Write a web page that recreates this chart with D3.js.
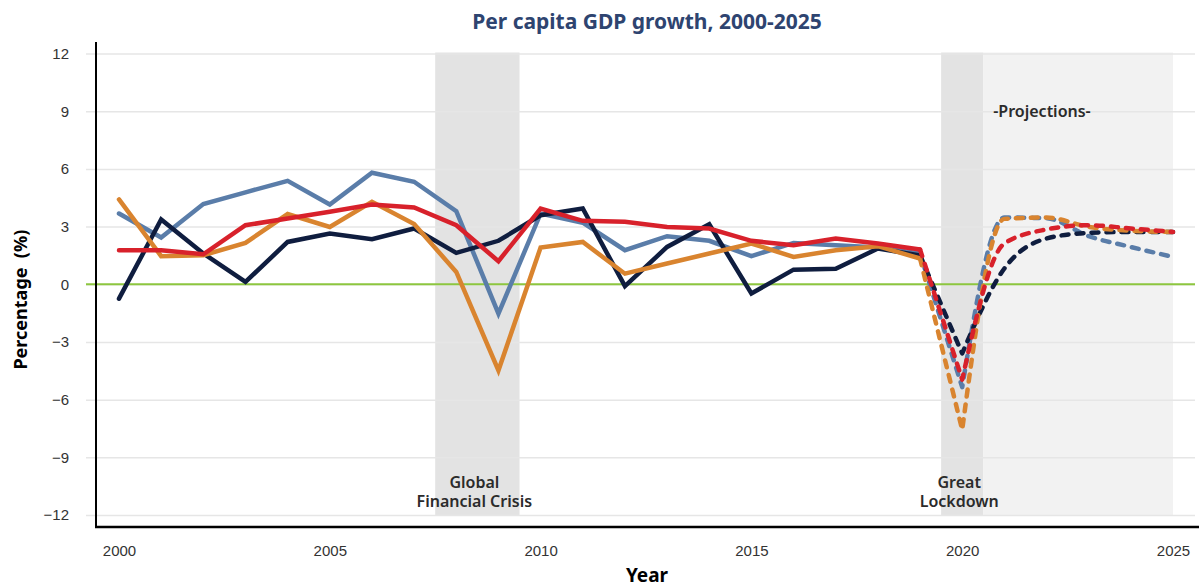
<!DOCTYPE html>
<html>
<head>
<meta charset="utf-8">
<script src="https://cdn.jsdelivr.net/npm/d3@7"></script>
<style>
  body { margin: 0; background: #fff; }
  svg { font-family: "Noto Sans", sans-serif; }
</style>
</head>
<body>
<div id="chart"></div>
<script>
// data, one value per year 2000-2025
var years = d3.range(2000, 2026);
var lastActual = 2019;
var troughYear = 2020;

var navyVals   = [-0.75, 3.37, 1.6, 0.12, 2.2, 2.64, 2.34, 2.9, 1.63, 2.26, 3.59, 3.94, -0.1, 1.94, 3.12, -0.48, 0.76, 0.8, 1.86, 1.5, -3.6, 0.82, 2.38, 2.67, 2.72, 2.72];
var blueVals   = [3.68, 2.43, 4.17, 4.78, 5.38, 4.15, 5.8, 5.33, 3.8, -1.53, 3.68, 3.2, 1.77, 2.5, 2.26, 1.46, 2.15, 2.03, 1.91, 1.6, -5.35, 3.47, 3.43, 2.5, 1.94, 1.42];
var orangeVals = [4.41, 1.46, 1.51, 2.15, 3.65, 2.98, 4.29, 3.13, 0.64, -4.48, 1.91, 2.2, 0.55, 1.08, 1.6, 2.12, 1.42, 1.77, 1.98, 1.34, -7.57, 3.4, 3.47, 2.98, 2.78, 2.72];
var redVals    = [1.77, 1.77, 1.56, 3.07, 3.42, 3.77, 4.15, 3.99, 3.07, 1.2, 3.94, 3.3, 3.25, 2.98, 2.9, 2.26, 2.03, 2.38, 2.12, 1.81, -4.96, 2.12, 2.85, 3.07, 2.9, 2.72];

var yTicks = [-12, -9, -6, -3, 0, 3, 6, 9, 12];
var xTicks = [2000, 2005, 2010, 2015, 2020, 2025];

var seriesList = [
  {name: "blue",   values: blueVals,   color: "#5a7da9"},
  {name: "navy",   values: navyVals,   color: "#0f1d3f"},
  {name: "orange", values: orangeVals, color: "#d9842f"},
  {name: "red",    values: redVals,    color: "#d8212b"}
];

var shades = [
  {from: 2007.5, to: 2009.5, fill: "#e3e3e3", label: ["Global", "Financial Crisis"]},
  {from: 2019.5, to: 2020.5, fill: "#e3e3e3", label: ["Great", "Lockdown"]},
  {from: 2020.5, to: 2025,   fill: "#f2f2f2", label: null}
];

var W = 1199, H = 585;

var svg = d3.select("#chart").append("svg")
  .attr("width", W)
  .attr("height", H);

var x = d3.scaleLinear().domain([2000, 2025]).range([119, 1173]);
var y = d3.scaleLinear().domain([-12, 12]).range([515, 53.5]);

// shaded periods
svg.selectAll("rect.shade")
  .data(shades)
  .enter().append("rect")
  .attr("class", "shade")
  .attr("x", function(d) { return x(d.from); })
  .attr("width", function(d) { return x(d.to) - x(d.from); })
  .attr("y", y(12) - 1)
  .attr("height", y(-12) - y(12) + 1)
  .attr("fill", function(d) { return d.fill; });

// gridlines + y tick labels
var yAxis = d3.axisLeft(y)
  .tickValues(yTicks)
  .tickSize(-(1195 - 86))
  .tickPadding(16)
  .tickFormat(d3.format("d"));

svg.append("g")
  .attr("transform", "translate(86,0)")
  .call(yAxis)
  .call(function(g) {
    g.select(".domain").remove();
    g.selectAll(".tick line").attr("stroke", "#e6e6e6").attr("stroke-width", 1.5);
    g.selectAll(".tick text").attr("fill", "#333").style("font-size", "15px")
      .style("font-weight", 300).attr("x", -17);
  });

// shade labels on top of grid
shades.forEach(function(s) {
  if (!s.label) return;
  var cx = (x(s.from) + x(s.to)) / 2 - 3;
  var t = svg.append("text")
    .attr("x", cx)
    .attr("y", 488)
    .attr("text-anchor", "middle")
    .attr("fill", "#2b2b2b")
    .style("font-size", "16px")
    .style("font-weight", 600);
  s.label.forEach(function(line, i) {
    t.append("tspan").attr("x", cx).attr("dy", i == 0 ? 0 : 19).text(line);
  });
});

svg.append("text")
  .attr("x", 1042)
  .attr("y", 117)
  .attr("text-anchor", "middle")
  .attr("fill", "#2b2b2b")
  .style("font-size", "16px")
  .style("font-weight", 600)
  .text("-Projections-");

// zero line
svg.append("line")
  .attr("x1", 86).attr("x2", 1195)
  .attr("y1", y(0)).attr("y2", y(0))
  .attr("stroke", "#8dc63f")
  .attr("stroke-width", 2);

// lines
var solidLine = d3.line()
  .x(function(d) { return x(d.year); })
  .y(function(d) { return y(d.value); });

var smoothLine = d3.line()
  .curve(d3.curveMonotoneX)
  .x(function(d) { return x(d.year); })
  .y(function(d) { return y(d.value); });

seriesList.forEach(function(s) {
  var pts = years.map(function(yr, i) { return {year: yr, value: s.values[i]}; });
  var actual = pts.filter(function(d) { return d.year <= lastActual; });
  var drop = pts.filter(function(d) { return d.year >= lastActual && d.year <= troughYear; });
  var recovery = pts.filter(function(d) { return d.year >= troughYear; });

  svg.append("path")
    .datum(actual)
    .attr("d", solidLine)
    .attr("fill", "none")
    .attr("stroke", s.color)
    .attr("stroke-width", 4.5)
    .attr("stroke-linejoin", "miter")
    .attr("stroke-linecap", "round");

  // sharp drop into 2020, smooth recovery after; one path so dashes run on
  var d = solidLine(drop) + smoothLine(recovery).replace(/^M/, "L");
  svg.append("path")
    .attr("d", d)
    .attr("fill", "none")
    .attr("stroke", s.color)
    .attr("stroke-width", 4.5)
    .attr("stroke-dasharray", "7,8")
    .attr("stroke-linejoin", "round")
    .attr("stroke-linecap", "round");
});

// axis lines
svg.append("line")
  .attr("x1", 96).attr("x2", 96)
  .attr("y1", 42).attr("y2", 527)
  .attr("stroke", "#000").attr("stroke-width", 2);

svg.append("line")
  .attr("x1", 95).attr("x2", W)
  .attr("y1", 527).attr("y2", 527)
  .attr("stroke", "#000").attr("stroke-width", 2.5);

// x tick labels
var xAxis = d3.axisBottom(x)
  .tickValues(xTicks)
  .tickSize(0)
  .tickPadding(0)
  .tickFormat(d3.format("d"));

svg.append("g")
  .attr("transform", "translate(0,545)")
  .call(xAxis)
  .call(function(g) {
    g.select(".domain").remove();
    g.selectAll(".tick text").attr("fill", "#333").style("font-size", "15px")
      .style("font-weight", 300);
  });

// titles
svg.append("text")
  .attr("x", 647)
  .attr("y", 29)
  .attr("text-anchor", "middle")
  .attr("fill", "#2e4470")
  .style("font-size", "21px")
  .style("font-weight", 700)
  .text("Per capita GDP growth, 2000-2025");

svg.append("text")
  .attr("transform", "translate(27," + y(-0.8) + ") rotate(-90)")
  .attr("text-anchor", "middle")
  .attr("fill", "#000")
  .style("font-size", "18px")
  .style("font-weight", 700)
  .style("white-space", "pre")
  .text("Percentage  (%)");

svg.append("text")
  .attr("x", 647)
  .attr("y", 582)
  .attr("text-anchor", "middle")
  .attr("fill", "#000")
  .style("font-size", "19px")
  .style("font-weight", 700)
  .text("Year");
</script>
</body>
</html>
